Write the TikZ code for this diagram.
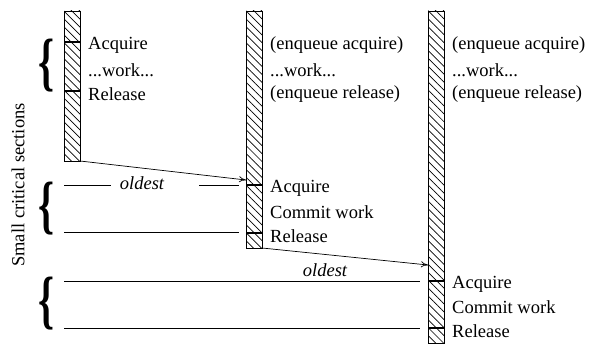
\documentclass[tikz,border=0pt]{standalone}
\usepackage{fontspec}
\setmainfont{Liberation Serif}
\usetikzlibrary{patterns.meta,arrows.meta}
\begin{document}
\begin{tikzpicture}[x=1pt,y=1pt,
  bar/.style={draw,line width=0.7pt,pattern={Lines[angle=-45,distance=5.6pt,line width=0.7pt]},minimum width=16pt,inner sep=0pt,outer sep=0pt},
  tickmark/.style={line width=2.2pt},
  lbl/.style={anchor=west,inner sep=0pt,font=\fontsize{18.5}{20}\selectfont},
  thin/.style={line width=0.7pt},
  arr/.style={line width=0.7pt,-{To[length=7pt,width=6pt]}},
  brc/.style={inner sep=0pt,outer sep=0pt}]
\useasboundingbox (0,0) rectangle (591,343);
% bars
\node[bar,minimum height=150pt,anchor=north west] (b1) at (64,332) {};
\node[bar,minimum height=237pt,anchor=north west] (b2) at (246,332) {};
\node[bar,minimum height=332pt,anchor=north west] (b3) at (428,332) {};
% ticks
\draw[tickmark] (64,301) -- (80,301);
\draw[tickmark] (64,252) -- (80,252);
\draw[tickmark] (246,158) -- (262,158);
\draw[tickmark] (246,110) -- (262,110);
\draw[tickmark] (428,62) -- (444,62);
\draw[tickmark] (428,15) -- (444,15);
% texts bar1
\node[lbl] (t11) at (88,298) {Acquire};
\node[lbl] (t12) at (88,273) {...work...};
\node[lbl] (t13) at (88,249) {Release};
% texts bar2 top
\node[lbl] (t21) at (270,298) {(enqueue acquire)};
\node[lbl] (t22) at (270,273) {...work...};
\node[lbl] (t23) at (270,249) {(enqueue release)};
% texts bar3 top
\node[lbl] (t31) at (452,298) {(enqueue acquire)};
\node[lbl] (t32) at (452,273) {...work...};
\node[lbl] (t33) at (452,249) {(enqueue release)};
% bar2 lower
\node[lbl] (t24) at (270,155) {Acquire};
\node[lbl] (t25) at (270,131) {Commit work};
\node[lbl] (t26) at (270,107) {Release};
% bar3 lower
\node[lbl] (t34) at (452,59) {Acquire};
\node[lbl] (t35) at (452,36) {Commit work};
\node[lbl] (t36) at (452,12) {Release};
% arrows
\coordinate (a2) at (246,163);
\coordinate (a3) at (428,78);
\draw[arr] (b1.south east) -- (a2);
\draw[arr] (b2.south east) -- (a3);
% lines group 2
\coordinate (l1a) at (64,158); \coordinate (l1b) at (111,158);
\coordinate (l1c) at (199,158); \coordinate (l1d) at (239,158);
\draw[thin] (l1a) -- (l1b);
\draw[thin] (l1c) -- (l1d);
\node[font=\fontsize{18.5}{20}\selectfont\itshape,inner sep=0pt] (o1) at (142,160) {oldest};
\coordinate (l2a) at (64,111); \coordinate (l2b) at (239,111);
\draw[thin] (l2a) -- (l2b);
% lines group 3
\coordinate (l3a) at (64,62); \coordinate (l3b) at (420,62);
\draw[thin] (l3a) -- (l3b);
\node[font=\fontsize{18.5}{20}\selectfont\itshape,inner sep=0pt] (o2) at (325,73) {oldest};
\coordinate (l4a) at (64,15); \coordinate (l4b) at (420,15);
\draw[thin] (l4a) -- (l4b);
% braces
\node[brc] (br1) at (47,277) {\resizebox*{16pt}{53pt}{\bfseries\{}};
\node[brc] (br2) at (47,134) {\resizebox*{16pt}{53pt}{\bfseries\{}};
\node[brc] (br3) at (47,39) {\resizebox*{16pt}{53pt}{\bfseries\{}};
% side label
\node[rotate=90,font=\fontsize{18.5}{20}\selectfont,inner sep=0pt] (side) at (18,158) {Small critical sections};
\end{tikzpicture}
\end{document}
